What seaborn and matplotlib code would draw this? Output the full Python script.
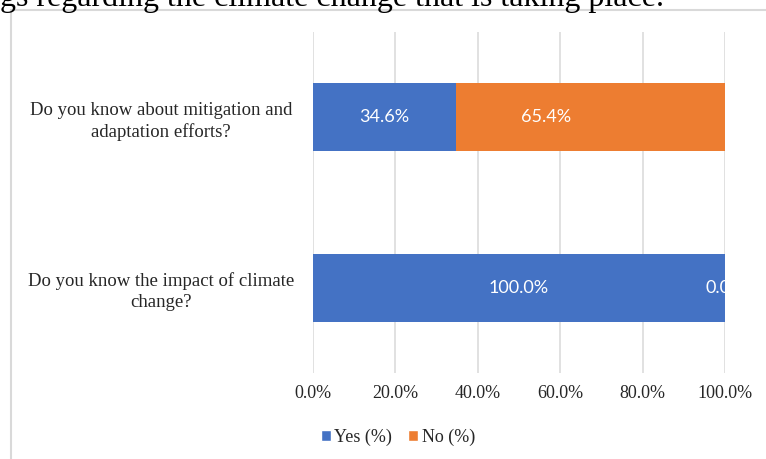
import matplotlib
matplotlib.use("Agg")
import matplotlib.pyplot as plt
import seaborn as sns
import pandas as pd
from matplotlib.patches import Patch, Rectangle

# ---- data ----
questions = ["Do you know about mitigation and\nadaptation efforts?",
             "Do you know the impact of climate\nchange?"]
yes_pct = [34.6, 100.0]
no_pct = [65.4, 0.0]
series_names = ["Yes (%)", "No (%)"]
x_ticks = [0, 20, 40, 60, 80, 100]
x_tick_labels = ["0.0%", "20.0%", "40.0%", "60.0%", "80.0%", "100.0%"]
header_text = "gs regarding the climate change that is taking place."

BLUE = "#4472C4"
ORANGE = "#ED7D31"
GRID = "#d9d9d9"

sns.set_theme(style="white")
plt.rcParams['font.family'] = ['Liberation Serif', 'DejaVu Serif']

W, H = 766, 459
fig = plt.figure(figsize=(W / 100, H / 100), dpi=100)
ax = fig.add_axes([313 / W, 1 - 373 / H, 412 / W, 341 / H])

df = pd.DataFrame({
    "question": questions,
    "yes": yes_pct,
    "total": [y + n for y, n in zip(yes_pct, no_pct)],
})
sns.barplot(data=df, y="question", x="total", color=ORANGE, width=0.4,
            orient="h", saturation=1, linewidth=0, ax=ax)
sns.barplot(data=df, y="question", x="yes", color=BLUE, width=0.4,
            orient="h", saturation=1, linewidth=0, ax=ax)

ax.set_xlim(0, 100)
ax.set_ylim(1.5, -0.5)
ax.set_xticks(x_ticks)
ax.set_xticklabels(x_tick_labels, fontsize=13)
ax.set_yticks(range(len(questions)))
ax.set_yticklabels(questions, ha="center", fontsize=13.5, linespacing=1.3)
ax.tick_params(axis="y", length=0, pad=(313 - 161) * 0.72)
ax.tick_params(axis="x", length=0, pad=9)
ax.set_xlabel("")
ax.set_ylabel("")
ax.xaxis.grid(True, color=GRID, linewidth=1.1)
ax.yaxis.grid(False)
ax.set_axisbelow(True)
for s in ax.spines.values():
    s.set_visible(False)

# data labels
for i, (y, n) in enumerate(zip(yes_pct, no_pct)):
    ax.text(y / 2, i, f"{y:.1f}%", ha="center", va="center", color="white",
            fontsize=13, family=["Lato", "DejaVu Sans"], clip_on=True)
    ax.text(y + n * 0.335, i, f"{n:.1f}%", ha="center", va="center", color="white",
            fontsize=13, family=["Lato", "DejaVu Sans"], clip_on=True)

# legend
handles = [Patch(facecolor=BLUE), Patch(facecolor=ORANGE)]
fig.legend(handles, series_names, loc="center", bbox_to_anchor=(398 / W, 1 - 437 / H),
           ncol=2, frameon=False, fontsize=13, handlelength=0.55, handleheight=0.55,
           handletextpad=0.2, columnspacing=0.9, borderpad=0)

# chart border (partially cropped)
fig.add_artist(Rectangle((10.5 / W, -0.1), 1.2, (1 - 10 / H) + 0.1,
                         transform=fig.transFigure, fill=False,
                         edgecolor=GRID, linewidth=1.5))

# cropped text above the chart
fig.text(0, 1 - 6 / H, header_text, fontsize=23, ha="left", va="baseline",
         color="black")

fig.savefig("out.png", dpi=100)
